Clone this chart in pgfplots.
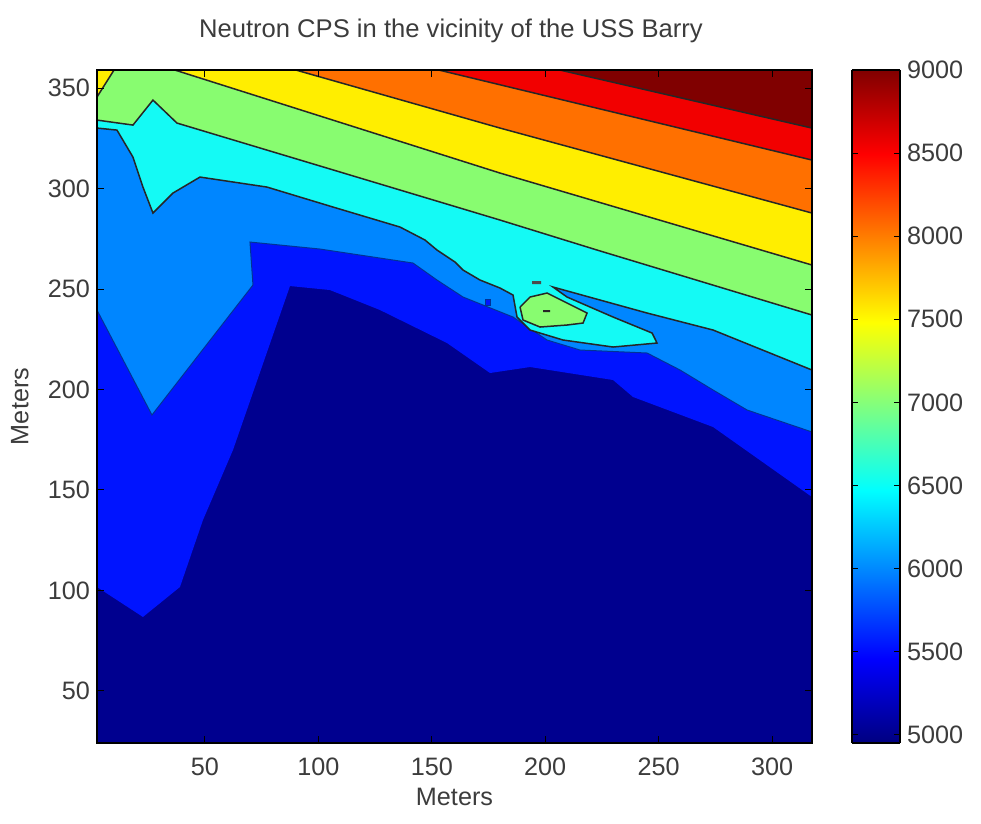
\documentclass[border=0pt]{standalone}
\usepackage{fontspec}
\setmainfont{Liberation Sans}
\usepackage{pgfplots}
\pgfplotsset{compat=1.18}
\definecolor{c0}{RGB}{0,0,143}
\definecolor{c1}{RGB}{0,20,255}
\definecolor{c2}{RGB}{0,134,255}
\definecolor{c3}{RGB}{20,250,245}
\definecolor{c4}{RGB}{136,252,112}
\definecolor{c5}{RGB}{255,238,0}
\definecolor{c6}{RGB}{255,112,0}
\definecolor{c7}{RGB}{242,0,0}
\definecolor{c8}{RGB}{128,0,0}
\definecolor{txt}{RGB}{60,60,60}
\tikzset{cl/.style={draw=black!85, line width=0.75pt}}
\begin{document}
\begin{tikzpicture}
\path[use as bounding box] (-48.5pt,-40.5pt) rectangle (442pt,371.5pt);
\begin{axis}[
  at={(0pt,0pt)}, anchor=south west, scale only axis,
  width=357.5pt, height=336.5pt,
  xmin=2.4, xmax=317.6, ymin=24.1, ymax=359,
  xtick={50,100,...,300}, ytick={50,100,...,350},
  tick align=inside, major tick length=3.5pt,
  every tick/.style={black, line width=0.5pt},
  axis background/.style={fill=c0},
  axis on top,
  axis line style={black, line width=0.6pt},
  /pgf/number format/assume math mode=true,
  tick label style={font=\fontsize{12.6}{14}\selectfont, text=txt},
  xticklabel style={yshift=-4pt},
  title={Neutron CPS in the vicinity of the USS Barry},
  title style={at={(axis description cs:0.495,1)}, anchor=base, yshift=10pt, font=\fontsize{12.8}{14}\selectfont, text=txt},
  xlabel={Meters}, ylabel={Meters},
  label style={font=\fontsize{12.6}{14}\selectfont, text=txt},
  xlabel style={at={(axis description cs:0.5,-0.0802)}, anchor=center},
  ylabel style={at={(axis description cs:-0.108,0.5)}, anchor=center},
]
% >= 5500
\addplot[fill=c1, draw=none] coordinates {(2.38,101.74) (22.66,86.81) (38.98,101.74) (49.12,135.08) (62.35,169.90) (87.48,251.49) (105.1,249.5) (127.16,239.55) (156.70,223.13) (175.66,208.21) (193.30,211.19) (229.90,204.73) (238.71,196.27) (273.99,181.34) (317.6,146.52) (317.6,358.96) (2.38,358.96) (2.38,101.74)};
% >= 6000
\addplot[fill=c2, draw={rgb,255:red,0;green,50;blue,150}, line width=0.5pt] coordinates {(2.38,239.55) (26.63,187.31) (71.16,251.99) (69.84,273.38) (100.70,269.9) (141.71,262.94) (152.29,254.48) (163.76,246.02) (185.80,236.07) (200.79,224.63) (215.34,219.65) (244.89,218.16) (259.44,209.70) (273.99,199.75) (288.98,189.80) (317.6,178.86) (317.6,358.96) (2.38,358.96) (2.38,239.55)};
\addplot[fill=c1, draw={rgb,255:red,0;green,50;blue,150}, line width=0.5pt] coordinates {(173.46,245.03) (175.66,245.03) (175.66,242.04) (173.46,242.04) (173.46,245.03)};
% >= 6500
\addplot[fill=c3, cl] coordinates {(2.38,330.10) (11.2,329.10) (18.25,315.67) (22.66,300.74) (27.07,287.81) (35.89,297.76) (47.80,305.72) (77.34,300.74) (106.44,290.80) (135.98,280.85) (147.0,274.38) (152.29,269.40) (160.23,263.43) (163.76,259.45) (171.25,254.48) (180.07,250.50) (185.80,247.01) (187.57,236.07) (193.30,229.60) (207.85,224.63) (229.90,221.14) (249.29,223.13) (247.09,228.11) (229.90,236.07) (209.61,246.02) (203.44,250.99) (244.89,238.06) (273.99,229.60) (317.6,209.7) (317.6,358.96) (2.38,358.96) (2.38,330.10)};
% >= 7000
\addplot[fill=c4, cl] coordinates {(2.38,334.08) (18.25,331.59) (27.07,344.03) (37.65,332.59) (180.07,284.33) (222.84,269.40) (317.6,237.06) (317.6,358.96) (2.38,358.96) (2.38,334.08)};
\addplot[fill=c4, cl] coordinates {(188.89,241.04) (193.30,246.02) (200.79,248.01) (209.61,243.03) (218.43,238.06) (216.67,233.08) (209.61,232.09) (197.71,231.09) (190.21,234.58) (188.89,241.04)};
\addplot[fill=black!85, draw=none] coordinates {(199.03,239.55) (202.12,239.55) (202.12,238.56) (199.03,238.56) (199.03,239.55)};
\addplot[fill=black!70, draw=none] coordinates {(194.18,253.98) (198.15,253.98) (198.15,252.49) (194.18,252.49) (194.18,253.98)};
% >= 7500
\addplot[fill=c5, cl] coordinates {(2.38,345.52) (9.9,358.96) (2.38,358.96) (2.38,345.52)};
\addplot[fill=c5, cl] coordinates {(36.76,358.96) (180.07,307.71) (317.6,261.94) (317.6,358.96) (36.76,358.96)};
% >= 8000
\addplot[fill=c6, cl] coordinates {(90.12,358.96) (180.07,330.10) (317.6,287.81) (317.6,358.96) (90.12,358.96)};
% >= 8500
\addplot[fill=c7, cl] coordinates {(153.17,358.96) (317.6,314.18) (317.6,358.96) (153.17,358.96)};
% >= 9000
\addplot[fill=c8, cl] coordinates {(206.53,358.96) (317.6,330.10) (317.6,358.96) (206.53,358.96)};
\end{axis}
\begin{axis}[
  at={(377.5pt,0pt)}, anchor=south west, scale only axis,
  width=24pt, height=336.5pt,
  view={0}{90},
  xmin=0, xmax=1, ymin=4950, ymax=9000,
  xtick=\empty, ytick={5000,5500,...,9000},
  yticklabel pos=right,
  tick align=inside, major tick length=3pt,
  every tick/.style={black, line width=0.5pt},
  axis on top,
  axis line style={black, line width=0.6pt},
  /pgf/number format/1000 sep={},
  /pgf/number format/assume math mode=true,
  tick label style={font=\fontsize{12.6}{14}\selectfont, text=txt},
  colormap/jet,
  point meta min=4950, point meta max=9000,
]
\addplot3[surf, shader=interp, point meta=y] coordinates {
(0,4950,0) (1,4950,0)

(0,9000,0) (1,9000,0)
};
\end{axis}
\end{tikzpicture}
\end{document}
